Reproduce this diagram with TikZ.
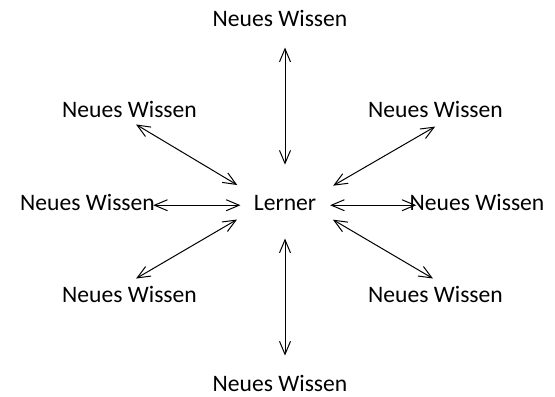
\documentclass[tikz,border=0pt]{standalone}
\usepackage{fontspec}
\setmainfont{Carlito}
\usetikzlibrary{arrows.meta}
\begin{document}
\begin{tikzpicture}[x=0.5pt,y=-0.5pt,
  txt/.style={anchor=base,inner sep=1.5pt,font=\fontsize{11.8}{14}\selectfont},
  pfeil/.style={{Straight Barb[length=6.5pt,width=5.5pt]}-{Straight Barb[length=6.5pt,width=5.5pt]},line width=0.5pt},
  schraeg/.style={pfeil,shorten <=27.8pt,shorten >=3.8pt}]
\useasboundingbox (0,0) rectangle (555,396);
\node[txt] (lerner) at (285,210) {Lerner};
\node[txt] (oben) at (280,26) {Neues Wissen};
\node[txt] (obenlinks) at (129.5,117) {Neues Wissen};
\node[txt] (obenrechts) at (435.5,117) {Neues Wissen};
\node[txt] (links) at (87.5,210) {Neues Wissen};
\node[txt] (rechts) at (477,210) {Neues Wissen};
\node[txt] (untenlinks) at (129.5,302) {Neues Wissen};
\node[txt] (untenrechts) at (435.5,302) {Neues Wissen};
\node[txt] (unten) at (280,391) {Neues Wissen};
\draw[pfeil,shorten <=13.4pt,shorten >=9pt] (lerner.north) -- (lerner.north |- oben.south);
\draw[pfeil,shorten <=12.5pt,shorten >=7.9pt] (lerner.south) -- (lerner.south |- unten.north);
\draw[pfeil,shorten <=5pt,shorten >=-2.5pt] (lerner.mid west) -- (links.mid east);
\draw[pfeil,shorten <=5.3pt,shorten >=-5pt] (lerner.mid east) -- (rechts.mid west);
\draw[schraeg] (lerner.south) -- (obenlinks.south);
\draw[schraeg,shorten >=6pt] (lerner.south) -- ([xshift=5pt]obenrechts.south);
\draw[schraeg] (lerner.north) -- (untenlinks.north);
\draw[schraeg] (lerner.north) -- ([xshift=2pt]untenrechts.north);
\end{tikzpicture}
\end{document}
